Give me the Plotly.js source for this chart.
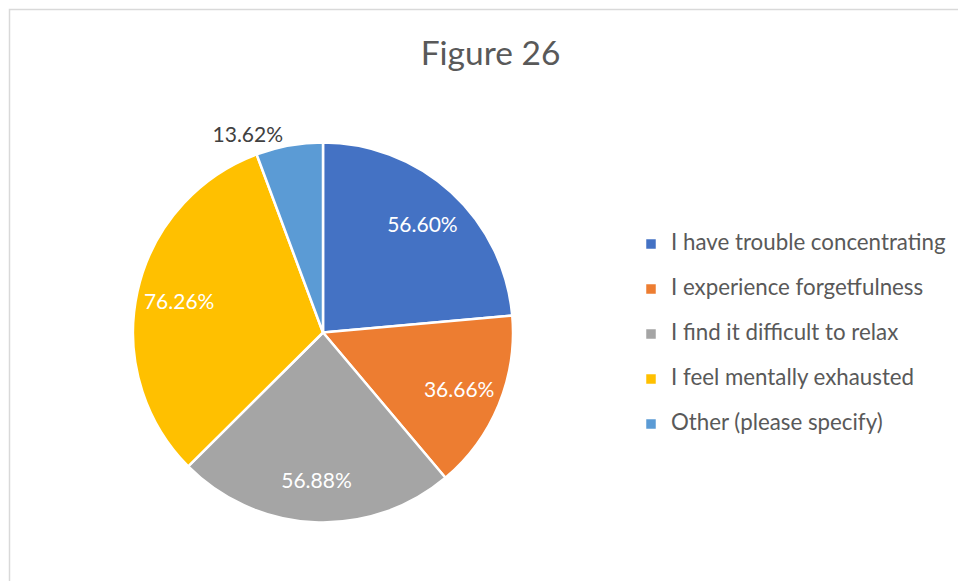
<!DOCTYPE html>
<html>
<head>
<meta charset="utf-8">
<script src="https://cdn.plot.ly/plotly-3.0.1.min.js"></script>
<style>html,body{margin:0;padding:0;background:#fff;}#chart{width:958px;height:581px;}</style>
</head>
<body>
<div id="chart"></div>
<script>
const categories = [
  "I have trouble concentrating",
  "I experience forgetfulness",
  "I find it difficult to relax",
  "I feel mentally exhausted",
  "Other (please specify)"
];
const values = [56.60, 36.66, 56.88, 76.26, 13.62];
const colors = ["#4472C4", "#ED7D31", "#A5A5A5", "#FFC000", "#5B9BD5"];
const labelPositions = ["inside", "inside", "inside", "inside", "outside"];
const labelColors = ["#FFFFFF", "#FFFFFF", "#FFFFFF", "#FFFFFF", "#404040"];

const legendLabels = categories.map(c => "<span style='font-size:22.3px'>" + c + "</span><br> ");
const pieDomain = { x: [133 / 958, 513 / 958], y: [58.5 / 581, 438.5 / 581] };

// Slices (no text)
const slices = {
  type: "pie",
  labels: legendLabels,
  values: values,
  sort: false,
  direction: "clockwise",
  rotation: 0,
  marker: { colors: colors, line: { color: "#FFFFFF", width: 2.5 } },
  textinfo: "none",
  hoverinfo: "skip",
  domain: pieDomain
};

// Transparent ring carrying the data labels, so they sit toward the outer part of each slice
const dataLabels = {
  type: "pie",
  labels: legendLabels,
  values: values,
  sort: false,
  direction: "clockwise",
  rotation: 0,
  hole: 0.55,
  showlegend: false,
  marker: { colors: values.map(() => "rgba(0,0,0,0)"), line: { width: 0 } },
  texttemplate: values.map(v => v.toFixed(2) + "%"),
  textinfo: "text",
  textposition: labelPositions,
  insidetextorientation: "horizontal",
  textfont: { family: "Lato, sans-serif", size: 21, color: labelColors },
  outsidetextfont: { family: "Lato, sans-serif", size: 21, color: "#404040" },
  hoverinfo: "skip",
  domain: pieDomain
};

const layout = {
  width: 958,
  height: 581,
  margin: { l: 0, r: 0, t: 0, b: 0 },
  paper_bgcolor: "#FFFFFF",
  font: { family: "Lato, sans-serif", color: "#595959" },
  title: {
    text: "Figure 26",
    font: { family: "Lato, sans-serif", size: 33.5, color: "#595959" },
    x: 490.5 / 958, xanchor: "center", xref: "paper",
    y: 1 - 53 / 581, yanchor: "middle", yref: "container"
  },
  showlegend: true,
  legend: {
    x: 631 / 958, xanchor: "left",
    y: 1 - 227 / 581, yanchor: "top",
    valign: "top",
    font: { family: "Lato, sans-serif", size: 16.15, color: "#595959" },
    bgcolor: "rgba(0,0,0,0)",
    borderwidth: 0
  },
  shapes: [{
    type: "rect", xref: "paper", yref: "paper",
    x0: 9.5 / 958, x1: 1.02, y0: -0.02, y1: 1 - 9.5 / 581,
    line: { color: "#D9D9D9", width: 1.5 }, fillcolor: "rgba(0,0,0,0)", layer: "below"
  }]
};

Plotly.newPlot("chart", [slices, dataLabels], layout, { displayModeBar: false, staticPlot: true });
</script>
</body>
</html>
